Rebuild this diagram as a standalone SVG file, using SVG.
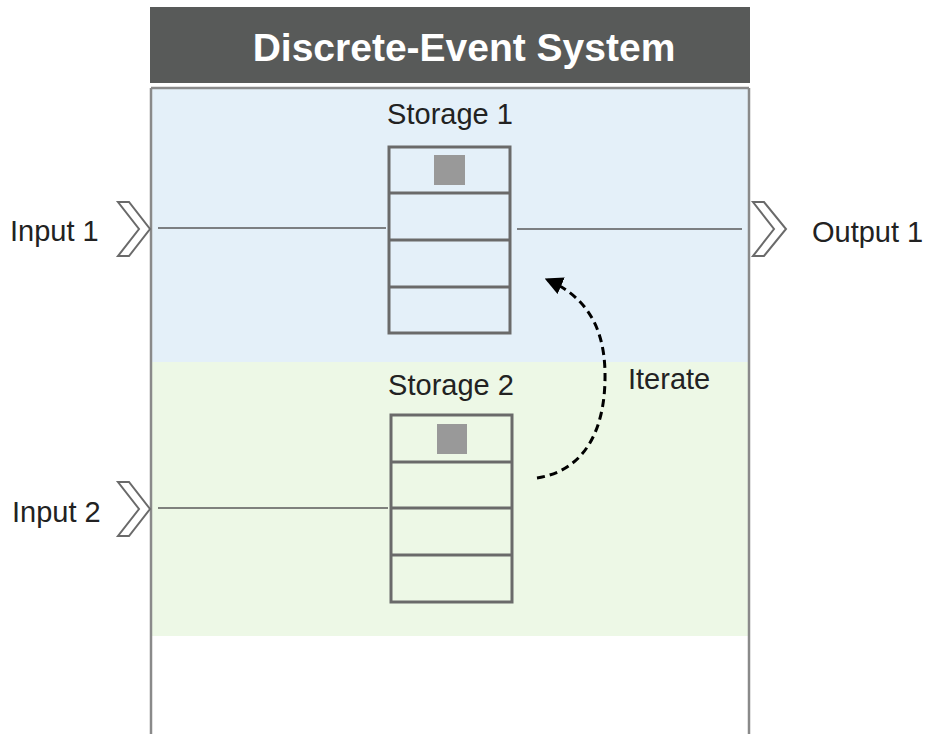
<svg xmlns="http://www.w3.org/2000/svg" width="936" height="734" viewBox="0 0 936 734">
<defs>
<style>
.lbl{font-family:"Liberation Sans",Arial,sans-serif;font-size:29px;fill:#222}
.cell{fill:none;stroke:#6a6a6a;stroke-width:3}
.chev{fill:#fff;stroke:#6a6a6a;stroke-width:2;stroke-linejoin:miter}
.wire{stroke:#5a5a5a;stroke-width:1.5;fill:none}
.tok{fill:#999}
</style>
<marker id="ah" viewBox="0 0 10 10" refX="8" refY="5" markerWidth="6" markerHeight="6" orient="auto-start-reverse">
<path d="M0,0 L10,5 L0,10 z" fill="#000"/>
</marker>
</defs>
<rect width="936" height="734" fill="#fff"/>
<g id="system">
<rect x="150" y="7" width="600" height="76" fill="#585a59"/>
<text x="464" y="61" text-anchor="middle" font-family="Liberation Sans,Arial,sans-serif" font-weight="bold" font-size="39" fill="#fff">Discrete-Event System</text>
<rect x="151" y="89" width="598" height="273" fill="#e4f0f9"/>
<rect x="151" y="362" width="598" height="274" fill="#edf8e6"/>
<path d="M151,88 V734 M749,88 V734 M151,88 H749" stroke="#8a8a8a" stroke-width="2.5" fill="none"/>
</g>
<g id="connectors">
<line class="wire" x1="158" y1="228" x2="386" y2="228"/>
<line class="wire" x1="517" y1="229" x2="742" y2="229"/>
<line class="wire" x1="158" y1="508" x2="388" y2="508"/>
<path d="M537,478 C588,470 606,425 605,372 C604,322 582,295 548,280" fill="none" stroke="#000" stroke-width="3" stroke-dasharray="8,5" marker-end="url(#ah)"/>
</g>
<g id="input1">
<polygon class="chev" points="118,202 129,202 150,229 129,256 118,256 139,229"/>
<text class="lbl" x="10" y="241">Input 1</text>
</g>
<g id="input2">
<polygon class="chev" points="118,482 129,482 150,509 129,536 118,536 139,509"/>
<text class="lbl" x="12" y="522">Input 2</text>
</g>
<g id="output1">
<polygon class="chev" points="753,202 764,202 786,229 764,256 753,256 774,229"/>
<text class="lbl" x="812" y="242">Output 1</text>
</g>
<g id="storage1">
<text class="lbl" x="450" y="124" text-anchor="middle">Storage 1</text>
<rect class="cell" x="389" y="147" width="121" height="186"/>
<path class="cell" d="M389,193 H510 M389,240 H510 M389,287 H510"/>
<rect class="tok" x="434" y="155" width="31" height="30"/>
</g>
<g id="storage2">
<text class="lbl" x="451" y="395" text-anchor="middle">Storage 2</text>
<rect class="cell" x="391" y="415" width="121" height="187"/>
<path class="cell" d="M391,462 H512 M391,508 H512 M391,555 H512"/>
<rect class="tok" x="437" y="424" width="30" height="30"/>
</g>
<g id="iterate">
<text class="lbl" x="628" y="389">Iterate</text>
</g>
</svg>
